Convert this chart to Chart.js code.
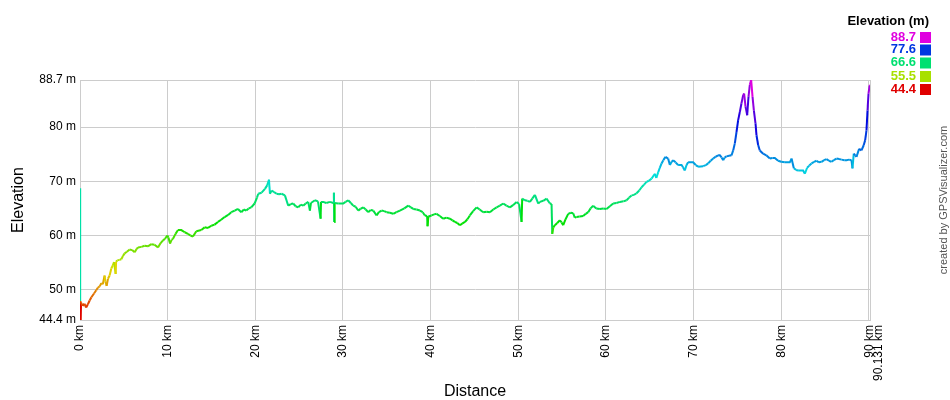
<!DOCTYPE html>
<html>
<head>
<meta charset="utf-8">
<script src="https://cdn.jsdelivr.net/npm/chart.js@4/dist/chart.umd.min.js"></script>
<style>
html,body{margin:0;padding:0;background:#fff;}
#wrap{width:950px;height:400px;}
</style>
</head>
<body>
<div id="wrap"><canvas id="c" width="950" height="400"></canvas></div>
<script>
// ---- data (km, m) ----
const distances = [0,0.02,0.06,0.12,0.3,0.5,0.7,0.9,1.1,1.3,1.6,1.85,2.05,2.25,2.43,2.6,2.81,2.9,3.04,3.19,3.38,3.57,3.75,3.88,4.07,4.12,4.26,4.5,4.71,4.9,5.09,5.35,5.66,5.95,6.24,6.45,6.62,7.0,7.38,7.75,8.13,8.5,8.9,9.2,9.47,9.7,9.96,10.1,10.27,10.45,10.61,10.9,11.18,11.56,11.95,12.32,12.6,12.89,13.27,13.84,14.22,14.6,14.98,15.35,15.74,16.1,16.5,16.9,17.26,17.65,18.02,18.4,18.7,18.97,19.25,19.54,19.92,20.19,20.34,20.72,21.1,21.37,21.56,21.67,21.86,22.15,22.43,22.7,23.0,23.38,23.76,24.05,24.33,24.6,24.9,25.2,25.47,25.75,26.04,26.23,26.35,26.8,27.15,27.45,27.5,27.75,28.1,28.52,28.9,28.97,29.0,29.05,29.46,30.03,30.3,30.6,30.9,31.17,31.45,31.74,32.0,32.31,32.6,32.88,33.16,33.46,33.84,34.1,34.41,34.7,34.98,35.35,35.74,36.1,36.5,37.0,37.45,37.75,38.02,38.4,38.78,39.1,39.35,39.6,39.65,39.75,40.11,40.4,40.68,41.05,41.44,41.8,42.2,42.5,42.77,43.05,43.34,43.6,43.91,44.2,44.48,44.85,45.25,45.6,46.0,46.4,46.77,47.15,47.53,47.9,48.29,48.65,49.05,49.4,49.81,50.1,50.38,50.45,50.76,51.05,51.33,51.6,51.9,52.28,52.47,52.85,53.23,53.61,53.8,53.88,54.0,54.18,54.45,54.75,54.95,55.13,55.4,55.7,56.0,56.27,56.45,56.65,57.0,57.41,57.7,57.98,58.25,58.55,58.9,59.31,59.7,60.07,60.45,60.83,61.2,61.6,62.0,62.36,62.65,62.93,63.2,63.5,63.8,64.07,64.35,64.64,64.9,65.21,65.59,65.75,65.97,66.15,66.35,66.55,66.8,67.1,67.3,67.5,67.67,67.95,68.24,68.63,68.8,69.0,69.2,69.38,69.95,70.25,70.52,71.1,71.4,71.67,71.95,72.24,72.5,72.8,73.0,73.2,73.38,73.55,73.76,74.05,74.33,74.52,74.71,74.9,75.09,75.28,75.47,75.66,75.77,75.93,76.12,76.27,76.42,76.57,76.73,76.88,77.07,77.18,77.37,77.56,77.94,78.3,78.7,79.0,79.27,79.65,80.0,80.41,80.98,81.18,81.44,81.7,81.93,82.2,82.5,82.7,82.96,83.2,83.46,83.75,84.03,84.3,84.6,84.9,85.17,85.45,85.74,86.0,86.31,86.6,86.88,87.2,87.45,87.75,88.02,88.13,88.28,88.45,88.59,88.89,89.16,89.42,89.58,89.73,89.85,89.96,90.08,90.131];
const elevations = [68.7,47.9,44.4,47.6,47.0,47.4,46.7,47.3,48.0,48.6,49.3,49.9,50.4,50.6,51.2,51.0,52.6,51.5,50.7,52.0,52.6,53.9,54.5,55.1,52.9,55.2,55.4,55.5,55.6,56.2,56.7,57.0,57.4,57.3,56.9,57.5,57.8,57.9,58.1,58.0,58.4,58.3,57.8,58.6,59.1,59.4,60.0,59.6,58.5,59.2,59.4,60.3,61.0,61.0,60.6,60.3,60.0,59.8,60.8,61.0,61.5,61.4,61.8,62.0,62.5,62.9,63.4,63.8,64.3,64.6,64.9,64.3,64.8,64.6,65.0,65.2,65.9,67.0,67.7,67.9,68.6,69.3,70.3,67.7,68.3,68.0,67.7,67.6,67.7,67.4,65.5,65.8,65.9,65.4,65.2,65.7,65.5,65.9,66.2,64.6,66.0,66.5,66.3,63.1,66.2,66.2,66.0,66.2,66.0,67.9,62.5,66.0,65.9,65.9,66.2,66.5,66.0,65.5,65.3,64.6,64.9,65.2,64.8,64.3,64.7,64.6,63.7,64.3,64.6,64.5,64.3,64.2,64.0,64.3,64.6,65.0,65.5,65.2,64.9,64.8,64.6,64.3,63.7,63.6,61.7,63.5,63.7,63.9,64.0,63.6,63.1,63.3,63.1,62.8,62.5,62.3,61.9,62.2,62.5,63.0,63.7,64.5,65.2,64.8,64.3,64.4,64.3,64.8,65.2,65.5,65.9,65.5,65.2,65.6,66.2,65.8,62.5,66.8,66.5,66.4,66.2,66.8,67.5,65.9,66.2,66.4,66.8,65.9,65.8,60.3,61.5,61.9,62.3,62.8,62.4,61.9,63.0,64.0,64.2,64.1,63.3,63.4,63.5,63.6,64.0,64.3,65.0,65.5,65.0,64.9,65.0,64.9,65.4,65.9,66.0,66.2,66.3,66.5,67.0,67.4,67.5,67.8,68.3,68.9,69.4,69.9,70.1,70.5,71.4,70.6,71.7,72.5,73.3,73.9,74.5,74.2,73.0,73.6,73.9,73.5,73.0,73.0,72.6,72.0,73.0,73.5,73.5,73.0,72.7,72.8,73.0,73.3,73.8,74.2,74.5,74.8,74.8,74.4,73.9,74.4,74.6,74.7,74.8,75.7,77.0,79.1,81.3,82.8,84.4,85.9,86.2,83.8,82.2,85.6,87.8,88.7,85.6,83.1,80.7,78.5,76.7,75.7,75.1,74.8,74.2,74.3,74.3,73.8,73.6,73.5,73.5,74.2,72.4,72.1,72.0,72.0,72.0,71.4,72.5,72.9,73.3,73.6,73.8,73.5,73.6,73.9,74.1,73.8,73.6,73.9,74.2,74.1,74.0,73.9,73.9,74.0,73.9,72.4,75.1,74.8,74.5,76.0,75.7,76.7,77.6,79.4,83.1,86.2,87.6,87.8];
const yTickValues = [44.4, 50, 60, 70, 80, 88.7];
const xTickValues = [0, 10, 20, 30, 40, 50, 60, 70, 80, 90, 90.131];
const xTickLabels = ['0 km','10 km','20 km','30 km','40 km','50 km','60 km','70 km','80 km','',['90 km','90.131 km']];
const legendValues = [88.7, 77.6, 66.6, 55.5, 44.4];
const legendColors = ['#e000e0', '#0038e0', '#00e070', '#a8e000', '#e00000'];

const Y_MIN = 44.4, Y_MAX = 88.7;
function elevColor(v) {
  const t = Math.max(0, Math.min(1, (v - Y_MIN) / (Y_MAX - Y_MIN)));
  return 'hsl(' + (t * 300).toFixed(1) + ',100%,44%)';
}

const FONT = "'Liberation Sans', Arial, Helvetica, sans-serif";

const sidePlugin = {
  id: 'side',
  afterDraw(chart) {
    const ctx = chart.ctx;
    ctx.save();
    ctx.fillStyle = '#000';
    ctx.font = 'bold 13px ' + FONT;
    ctx.textAlign = 'right';
    ctx.textBaseline = 'middle';
    ctx.fillText('Elevation (m)', 929, 21);
    const ys = [37, 49.5, 62.5, 76, 89];
    legendValues.forEach((v, i) => {
      ctx.fillStyle = legendColors[i];
      ctx.font = 'bold 13px ' + FONT;
      ctx.fillText(v.toFixed(1), 916, ys[i]);
      ctx.fillRect(920, ys[i] - 5, 11, 11);
    });
    ctx.translate(944, 200);
    ctx.rotate(-Math.PI / 2);
    ctx.fillStyle = '#555';
    ctx.font = '11px ' + FONT;
    ctx.textAlign = 'center';
    ctx.fillText('created by GPSVisualizer.com', 0, 0);
    ctx.restore();
  }
};

new Chart(document.getElementById('c'), {
  type: 'line',
  data: {
    datasets: [{
      data: distances.map((d, i) => ({ x: d, y: elevations[i] })),
      borderWidth: 2,
      pointRadius: 0,
      tension: 0,
      fill: false,
      borderColor: '#00e070',
      segment: {
        borderColor: c => elevColor(c.p0.parsed.y)
      }
    }]
  },
  options: {
    responsive: false,
    animation: false,
    layout: { padding: { left: 0, top: 80, right: 80, bottom: 0 } },
    plugins: { legend: { display: false }, tooltip: { enabled: false } },
    scales: {
      x: {
        type: 'linear',
        min: 0,
        max: 90.131,
        afterBuildTicks: s => { s.ticks = xTickValues.map(v => ({ value: v })); },
        afterFit: s => { s.height = 80; },
        grid: { color: '#cccccc', drawTicks: false },
        border: { color: '#cccccc' },
        ticks: {
          autoSkip: false,
          minRotation: 90,
          maxRotation: 90,
          padding: 5,
          color: '#000',
          font: { family: FONT, size: 12, lineHeight: 0.7 },
          callback: (v, i) => xTickLabels[i]
        },
        title: {
          display: true,
          text: 'Distance',
          color: '#000',
          font: { family: FONT, size: 16, lineHeight: 1 },
          padding: { top: 0, bottom: 0 }
        }
      },
      y: {
        type: 'linear',
        min: Y_MIN,
        max: Y_MAX,
        afterBuildTicks: s => { s.ticks = yTickValues.map(v => ({ value: v })); },
        afterFit: s => { s.width = 80; },
        grid: { color: '#cccccc', drawTicks: false },
        border: { color: '#cccccc' },
        ticks: {
          padding: 4,
          color: '#000',
          font: { family: FONT, size: 12 },
          callback: v => v + ' m'
        },
        title: {
          display: true,
          text: 'Elevation',
          color: '#000',
          font: { family: FONT, size: 16, lineHeight: 1 },
          padding: { top: 11, bottom: 0 }
        }
      }
    }
  },
  plugins: [sidePlugin]
});
</script>
</body>
</html>
